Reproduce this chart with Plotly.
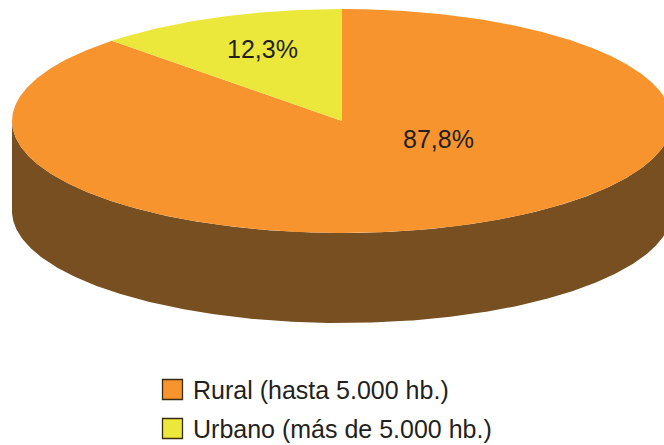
import numpy as np
import plotly.graph_objects as go

# ---- data ----
categories = ["Rural (hasta 5.000 hb.)", "Urbano (más de 5.000 hb.)"]
values = [87.8, 12.3]
value_labels = ["87,8%", "12,3%"]

# ---- style / layout constants ----
W, H = 664, 445
CX, CY = 342, 121          # pie centre (pixels)
RA, RB = 330, 112          # ellipse radii
DEPTH = 90                 # thickness of the 3D side
top_colors = ["#F7942E", "#ECE83B"]
side_color = "#774F20"
text_color = "#231F20"
FONT = "Liberation Sans, Arial, sans-serif"
label_pos = [(438, 139), (262, 49)]   # label anchor positions (pixels)
legend_sw_x, legend_tx, legend_y0, legend_dy = 172.5, 191, 389.5, 39


def ell(t_deg, dy=0.0):
    t = np.radians(t_deg)
    return CX - RA * np.sin(t), CY - RB * np.cos(t) + dy


total = sum(values)
ang_urb = values[1] / total * 360.0

fig = go.Figure()

# side wall (front half, visible part)
ts = np.linspace(90, 270, 400)
x_top, y_top = ell(ts)
x_bot, y_bot = ell(ts[::-1], DEPTH)
fig.add_trace(go.Scatter(
    x=np.concatenate([x_top, x_bot]), y=np.concatenate([y_top, y_bot]),
    fill="toself", fillcolor=side_color, mode="lines", line=dict(width=0),
    hoverinfo="skip", showlegend=False))

# top slices: Urbano from 12 o'clock counter-clockwise, Rural the rest
spans = [(ang_urb, 360.0), (0.0, ang_urb)]
for i, (a0, a1) in enumerate(spans):
    n = max(int((a1 - a0) * 3), 20)
    tt = np.linspace(a0, a1, n)
    xs, ys = ell(tt)
    fig.add_trace(go.Scatter(
        x=np.concatenate([[CX], xs, [CX]]), y=np.concatenate([[CY], ys, [CY]]),
        fill="toself", fillcolor=top_colors[i], mode="lines", line=dict(width=0),
        hoverinfo="skip", showlegend=False, name=categories[i]))

# value labels
for i, lab in enumerate(value_labels):
    fig.add_annotation(x=label_pos[i][0], y=label_pos[i][1], text=lab,
                       showarrow=False, xanchor="center", yanchor="middle",
                       font=dict(family=FONT, size=25, color=text_color))

# legend (manual, large square swatches)
ys_leg = [legend_y0 + k * legend_dy for k in range(len(categories))]
fig.add_trace(go.Scatter(
    x=[legend_sw_x] * len(categories), y=ys_leg, mode="markers",
    marker=dict(symbol="square", size=20, color=top_colors,
                line=dict(color="#3A2A10", width=1.3)),
    cliponaxis=False, hoverinfo="skip", showlegend=False))
for k, c in enumerate(categories):
    fig.add_annotation(x=legend_tx, y=ys_leg[k], text=c, showarrow=False,
                       xanchor="left", yanchor="middle",
                       font=dict(family=FONT, size=25, color=text_color))

fig.update_xaxes(range=[0, W], visible=False, fixedrange=True)
fig.update_yaxes(range=[H, 0], visible=False, fixedrange=True)
fig.update_layout(width=W, height=H,
                  margin=dict(l=0, r=0, t=0, b=0),
                  paper_bgcolor="white", plot_bgcolor="white",
                  showlegend=False)

fig.write_html("out.html",
               config={"displayModeBar": False, "staticPlot": True},
               post_script="document.body.style.margin='0';"
                           "document.body.style.overflow='hidden';")
